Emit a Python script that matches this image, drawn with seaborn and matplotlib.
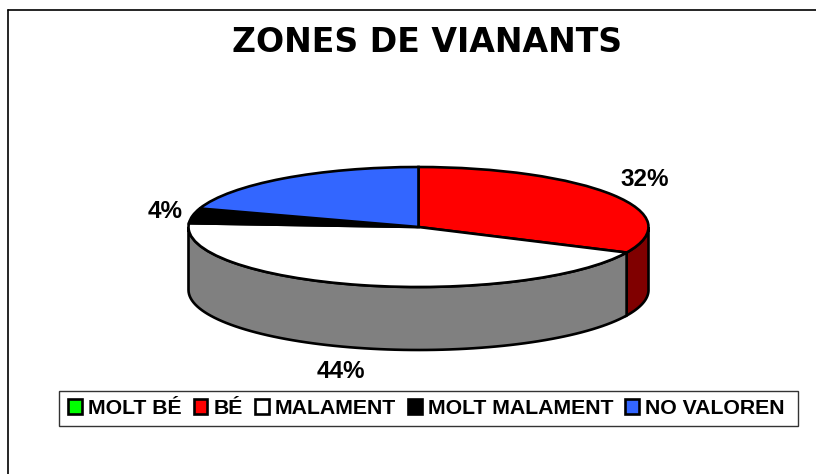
import numpy as np
import matplotlib
matplotlib.use('Agg')
import matplotlib.pyplot as plt
from matplotlib.lines import Line2D
from matplotlib.patches import Rectangle
import seaborn as sns

title = 'ZONES DE VIANANTS'
categories = ['MOLT BÉ', 'BÉ', 'MALAMENT', 'MOLT MALAMENT', 'NO VALOREN']
values = [0, 32, 44, 4, 20]
colors = ['#00ff00', '#ff0000', '#ffffff', '#000000', '#3366ff']
side_colors = ['#008000', '#800000', '#808080', '#000000', '#1a3380']
# only these slices carry a label in the original
labelled = ['BÉ', 'MALAMENT', 'MOLT MALAMENT']

W, H = 816, 474
sns.set_style('white')
plt.rcParams['font.family'] = ['Liberation Sans', 'DejaVu Sans']
plt.rcParams['text.color'] = 'black'

fig = plt.figure(figsize=(W/100, H/100), dpi=100)

# pixel geometry of the tilted pie
cx, cy, rx, ry, depth = 418.5, 227, 230, 60, 63
pad = 1.1
x0 = cx - rx*pad
y_top = cy - ry*pad
y_bot = cy + ry*pad + depth
ax = fig.add_axes([x0/W, 1 - y_bot/H, 2*rx*pad/W, (y_bot - y_top)/H])

lw = 1.9
wedges, _ = ax.pie(values, colors=colors, startangle=90, counterclock=False,
                   wedgeprops=dict(edgecolor='black', linewidth=lw), normalize=True)
ax.set_aspect('auto')
ax.set_xlim(-pad, pad)
ax.set_ylim(-pad - depth/ry, pad)

# side wall of the pie, only the front half shows
d = depth/ry
start = 90.0
for v, c in zip(values, side_colors):
    stop = start - v*3.6
    a = np.mod(stop, 360)
    b = a + v*3.6
    lo, hi = max(a, 180), min(b, 360)
    if v > 0 and lo < hi:
        t = np.radians(np.linspace(lo, hi, 80))
        xs = np.r_[np.cos(t), np.cos(t[::-1])]
        ys = np.r_[np.sin(t), np.sin(t[::-1]) - d]
        ax.fill(xs, ys, facecolor=c, edgecolor='black', linewidth=lw, zorder=0.5)
    start = stop

# outer frame, only left and top are visible
fig.add_artist(Line2D([8/W, 8/W], [0, 1 - 10/H], color='black', lw=1.2))
fig.add_artist(Line2D([8/W, 1], [1 - 10/H, 1 - 10/H], color='black', lw=1.2))

fig.text(427.5/W, 1 - 42/H, title, ha='center', va='center', fontsize=23.9,
         fontweight='bold', family='DejaVu Sans')

label_pos = {'BÉ': (644.5, 179), 'MALAMENT': (340.5, 371), 'MOLT MALAMENT': (165, 211)}
for name in labelled:
    px, py = label_pos[name]
    fig.text(px/W, 1 - py/H, f'{values[categories.index(name)]}%', ha='center',
             va='center', fontsize=17.5, fontweight='bold')

# legend box is drawn apart, it is taller than the legend's own padding allows
fig.add_artist(Rectangle((59/W, 1 - 426/H), 739/W, 35/H, transform=fig.transFigure,
                         facecolor='white', edgecolor='#333333', linewidth=1, zorder=2))
leg = fig.legend(wedges, categories, loc='center', ncol=5,
                 bbox_to_anchor=(426.5/W, 1 - 408.5/H), frameon=False,
                 prop=dict(size=15.3, weight='bold'),
                 handlelength=0.65, handleheight=0.65, handletextpad=0.3, columnspacing=0.55,
                 borderpad=0, borderaxespad=0)
leg.set_zorder(3)

fig.savefig('out.png', dpi=100)
